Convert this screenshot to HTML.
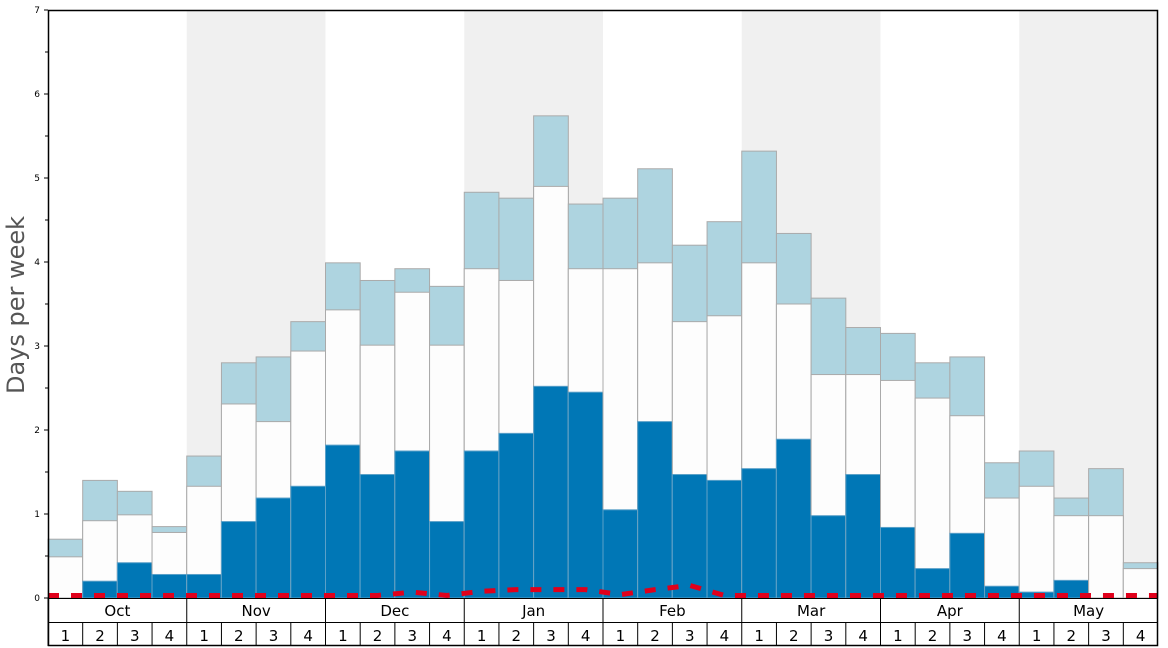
<!DOCTYPE html>
<html><head><meta charset="utf-8"><style>
html,body{margin:0;padding:0;background:#fff;}
svg{display:block;font-family:"DejaVu Sans","Liberation Sans",sans-serif;}
</style></head><body>
<svg width="1168" height="648" viewBox="0 0 1168 648" xmlns="http://www.w3.org/2000/svg">
<rect width="1168" height="648" fill="#fff"/>
<g fill="#f0f0f0">
<rect x="186.75" y="10" width="138.75" height="588"/>
<rect x="464.25" y="10" width="138.75" height="588"/>
<rect x="741.75" y="10" width="138.75" height="588"/>
<rect x="1019.25" y="10" width="138.75" height="588"/>
</g>
<g id="bars" stroke="#aaa" stroke-width="1"></g>
<polyline id="red" fill="none" stroke="#e0001b" stroke-width="5" stroke-dasharray="11,12"/>
<rect x="48.5" y="10.5" width="1109" height="635" fill="none" stroke="#000" stroke-width="1.5"/>
<line x1="48" y1="598.5" x2="1158" y2="598.5" stroke="#000" stroke-width="1"/>
<line x1="48" y1="622.5" x2="1158" y2="622.5" stroke="#000" stroke-width="1"/>
<g id="ax" font-size="9" fill="#000"></g>
<text x="17" y="305" font-size="24" fill="#555" text-anchor="middle" dominant-baseline="middle" transform="rotate(-90 17 305)">Days per week</text>
<g id="lab" font-size="15" fill="#000" text-anchor="middle"></g>
</svg>
<script>
var d=[[0.7,0.49,0],[1.4,0.92,0.2],[1.27,0.99,0.42],[0.85,0.78,0.28],[1.69,1.33,0.28],[2.8,2.31,0.91],[2.87,2.1,1.19],[3.29,2.94,1.33],[3.99,3.43,1.82],[3.78,3.01,1.47],[3.92,3.64,1.75],[3.71,3.01,0.91],[4.83,3.92,1.75],[4.76,3.78,1.96],[5.74,4.9,2.52],[4.69,3.92,2.45],[4.76,3.92,1.05],[5.11,3.99,2.1],[4.2,3.29,1.47],[4.48,3.36,1.4],[5.32,3.99,1.54],[4.34,3.5,1.89],[3.57,2.66,0.98],[3.22,2.66,1.47],[3.15,2.59,0.84],[2.8,2.38,0.35],[2.87,2.17,0.77],[1.61,1.19,0.14],[1.75,1.33,0.07],[1.19,0.98,0.21],[1.54,0.98,0],[0.42,0.35,0]];
var NS="http://www.w3.org/2000/svg",W=1110/32,Y=function(v){return 598-v*84;};
function el(p,t,a,txt){var e=document.createElementNS(NS,t);for(var k in a)e.setAttribute(k,a[k]);if(txt!=null)e.textContent=txt;p.appendChild(e);return e;}
var g=document.getElementById('bars'),lab=document.getElementById('lab'),ax=document.getElementById('ax');
d.forEach(function(b,i){var x=48+i*W;
el(g,'rect',{x:x,y:Y(b[0]),width:W,height:b[0]*84,fill:'#aed4e0'});
el(g,'rect',{x:x,y:Y(b[1]),width:W,height:b[1]*84,fill:'#fdfdfd'});
if(b[2]>0)el(g,'rect',{x:x,y:Y(b[2]),width:W,height:b[2]*84,fill:'#0077b6',stroke:'#5aa0c8'});
el(lab,'text',{x:x+W/2,y:641},(i%4)+1);
el(ax,'line',{x1:x,y1:622,x2:x,y2:646,stroke:'#000'});
});
var m=['Oct','Nov','Dec','Jan','Feb','Mar','Apr','May'];
m.forEach(function(n,i){var x=48+i*4*W;el(lab,'text',{x:x+2*W,y:616},n);el(ax,'line',{x1:x,y1:598,x2:x,y2:622,stroke:'#000'});});
for(var v=0;v<=7;v++){el(ax,'text',{x:40,y:Y(v)+3,'text-anchor':'end'},v);el(ax,'line',{x1:44,y1:Y(v),x2:48,y2:Y(v),stroke:'#000'});
if(v<7)el(ax,'line',{x1:45,y1:Y(v+0.5),x2:48,y2:Y(v+0.5),stroke:'#000'});}
var r=[0.03,0.03,0.03,0.03,0.03,0.03,0.03,0.03,0.03,0.03,0.07,0.03,0.08,0.1,0.1,0.1,0.04,0.1,0.15,0.03,0.03,0.03,0.03,0.03,0.03,0.03,0.03,0.03,0.03,0.03,0.03,0.03];
var pts=[[48,Y(0.03)]];r.forEach(function(v,i){pts.push([48+i*W+W/2,Y(v)]);});pts.push([1158,Y(0.03)]);
document.getElementById('red').setAttribute('points',pts.map(function(p){return p.join(',');}).join(' '));
</script>
</body></html>
